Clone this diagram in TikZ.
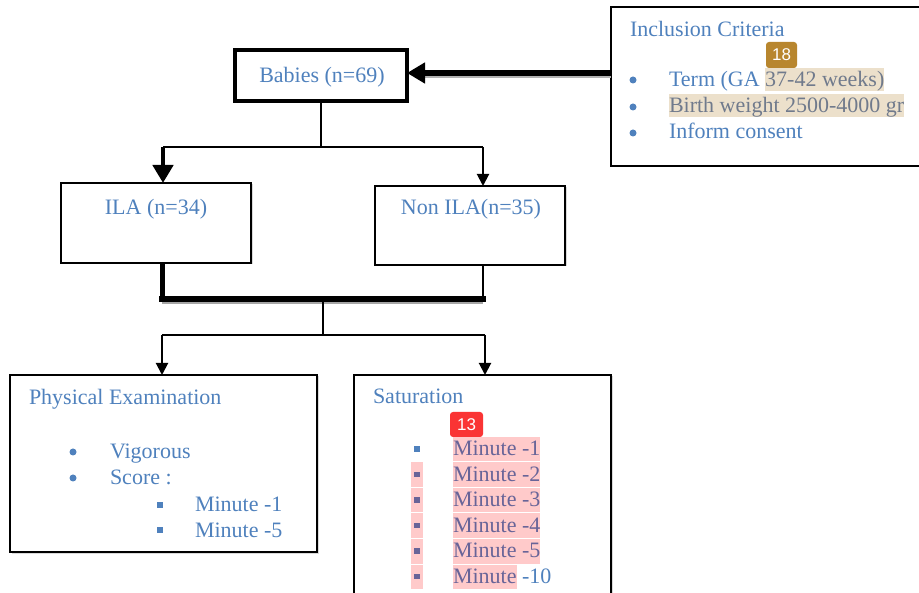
\documentclass[tikz,border=0pt]{standalone}
\usepackage{fontspec}
\setmainfont{Liberation Serif}
\newfontfamily\badgefont{Liberation Sans}
\usetikzlibrary{arrows.meta,shadows}
\definecolor{tb}{RGB}{79,129,189}
\definecolor{hltan}{RGB}{236,224,203}
\definecolor{hltxt}{RGB}{112,122,140}
\definecolor{hlpink}{RGB}{255,202,202}
\definecolor{pinktxt}{RGB}{104,100,152}
\definecolor{badgeA}{RGB}{184,134,46}
\definecolor{badgeB}{RGB}{250,52,52}
\begin{document}
\begin{tikzpicture}[x=1pt,y=-1pt,
  every node/.style={inner sep=0pt, outer sep=0pt},
  txt/.style={font=\fontsize{22}{26}\selectfont, text=tb, anchor=base west},
  hlt/.style={font=\fontsize{22}{26}\selectfont, text=hltxt, fill=hltan, text height=19pt, text depth=4pt, anchor=base west},
  hlp/.style={font=\fontsize{22}{26}\selectfont, text=pinktxt, fill=hlpink, text height=19pt, text depth=5.5pt, anchor=base west},
  bulhl/.style={fill=hlpink, minimum width=12pt, minimum height=24.5pt},
  box/.style={draw=black, fill=white, line width=1.8pt, drop shadow={opacity=0.3, shadow xshift=1.5pt, shadow yshift=-1.5pt}},
  dotb/.style={circle, fill=tb, minimum size=7pt},
  sqb/.style={rectangle, fill=tb, minimum size=5.5pt},
  sqp/.style={rectangle, fill=pinktxt, minimum size=5.5pt},
  badge/.style={rounded corners=3pt, text=white, font=\badgefont\fontsize{17}{17}\selectfont},
  conn/.style={draw=black, line width=2.2pt},
  tipS/.style={-{Triangle[length=12pt,width=12pt]}},
  tipL/.style={-{Triangle[length=18pt,width=20pt]}}
]
\useasboundingbox (0,0) rectangle (919,593);
\clip (0,0) rectangle (919,593);

% boxes
\node[box, line width=2pt, minimum width=324pt, minimum height=159pt] (incl) at (773,86.5) {};
\node[box, line width=4pt, minimum width=172pt, minimum height=51pt] (babies) at (321,75.5) {};
\node[box, line width=1.6pt, minimum width=190pt, minimum height=80pt] (ila) at (156,223) {};
\node[box, line width=1.6pt, minimum width=190pt, minimum height=79pt] (nonila) at (470,225.5) {};
\node[box, line width=2pt, minimum width=307pt, minimum height=177pt] (phys) at (163.5,463.5) {};
\node[box, line width=2pt, minimum width=257pt, minimum height=230pt] (sat) at (482.5,490) {};

% box titles
\node[txt, anchor=base] (babiest) at (322,83) {Babies (n=69)};
\node[txt, anchor=base] (ilat) at (156,215) {ILA (n=34)};
\node[txt, anchor=base] (nonilat) at (471,215) {Non ILA(n=35)};

% inclusion criteria
\node[txt] (inct) at (630,37) {Inclusion Criteria};
\node[badge, fill=badgeA, minimum width=31pt, minimum height=26pt] (bg18) at (781.5,55) {18};
\node[dotb] (id1) at (633,80) {};
\node[dotb] (id2) at (633,107) {};
\node[dotb] (id3) at (633,133) {};
\node[txt] (i1a) at (669,87) {Term (GA\hspace*{5.5pt}};
\node[hlt] (i1b) at (i1a.base east) {37-42 weeks)};
\node[hlt] (i2) at (669,113) {Birth weight 2500-4000 gr};
\node[txt] (i3) at (669,139) {Inform consent};

% physical examination
\node[txt] (pt) at (29,405) {Physical Examination};
\node[dotb] (pd1) at (73,452) {};
\node[dotb] (pd2) at (73,478) {};
\node[txt] (p1) at (110,459) {Vigorous};
\node[txt] (p2) at (110,485) {Score :};
\node[sqb] (ps1) at (160,505) {};
\node[sqb] (ps2) at (160,530) {};
\node[txt] (p3) at (195,512) {Minute -1};
\node[txt] (p4) at (195,537) {Minute -5};

% saturation
\node[txt] (st) at (373,404) {Saturation};
\node[badge, fill=badgeB, minimum width=33pt, minimum height=25pt] (bg13) at (466.5,424.5) {13};
\node[sqb] (ss1) at (417,449) {};
\node[hlp] (s1) at (453,456) {Minute -1};
\foreach \k/\lab in {2/-2,3/-3,4/-4,5/-5}{
  \node[bulhl] (sh\k) at (417,{456+25.5*(\k-1)-6.75}) {};
  \node[sqp] (ss\k) at (417,{456+25.5*(\k-1)-7}) {};
  \node[hlp] (s\k) at (453,{456+25.5*(\k-1)}) {Minute \lab};
}
\node[bulhl] (sh6) at (417,{456+25.5*5-6.75}) {};
\node[sqp] (ss6) at (417,{456+25.5*5-7}) {};
\node[hlp] (s6a) at (453,{456+25.5*5}) {Minute};
\node[txt] (s6b) at (s6a.base east) {\hspace*{5.5pt}-10};

% connectors
\coordinate (j1) at (321,147);
\coordinate (a1) at (163,147);
\coordinate (a2) at (483,147);
\draw[conn] (babies.south) -- (j1);
\draw[conn] (a1) -- (a2);
\draw[conn, line width=4.5pt, tipL] (a1) -- (a1 |- ila.north);
\draw[conn, line width=2pt, tipS] (a2) -- (a2 |- nonila.north);

\coordinate (b1) at (162,299);
\coordinate (b2) at (483,299);
\coordinate (b3) at (323,299);
\draw[line width=3pt, black!35] (162,302.5) -- (483,302.5);
\draw[conn, line width=5pt] (b1 |- ila.south) -- (b1);
\draw[conn, line width=2pt] (b2 |- nonila.south) -- (b2);
\draw[conn, line width=6pt, line cap=rect] (b1) -- (b2);
\coordinate (c3) at (323,335);
\coordinate (c1) at (162,335);
\coordinate (c2) at (485,335);
\draw[conn, line width=2pt] (b3) -- (c3);
\draw[conn, line width=2pt] (c1) -- (c2);
\draw[conn, line width=2pt, tipS] (c1) -- (c1 |- phys.north);
\draw[conn, line width=2pt, tipS] (c2) -- (c2 |- sat.north);

\coordinate (e1) at (611,73);
\coordinate (e2) at (407,73);
\draw[line width=3pt, black!30] (611,76.5) -- (425,76.5);
\draw[conn, line width=6pt, tipL] (e1) -- (e2);
\end{tikzpicture}
\end{document}
